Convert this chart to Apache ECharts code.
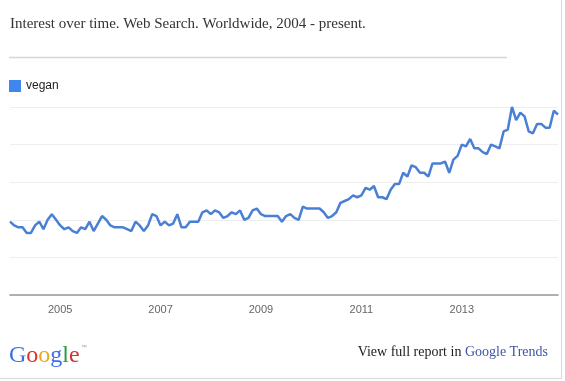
<!DOCTYPE html>
<html><head><meta charset="utf-8">
<script src="https://cdn.jsdelivr.net/npm/echarts@6/dist/echarts.min.js"></script>
<style>html,body{margin:0;padding:0;background:#fff}#c{width:565px;height:381px}</style>
</head><body><div id="c"></div>
<script>
const years = [2004,2005,2006,2007,2008,2009,2010,2011,2012,2013,2014];
const tickYears = ['2005','2007','2009','2011','2013'];
const seriesName = 'vegan';
const v2004 = [39,37,36,36,33,33,37,39,35,40,43,40];
const v2005 = [37,35,36,34,33,36,35,39,34,38,42,40];
const v2006 = [37,36,36,36,35,34,39,37,34,37,43,42];
const v2007 = [37,39,37,38,43,36,36,39,39,39,44,45];
const v2008 = [43,45,44,41,42,44,43,45,40,41,45,46];
const v2009 = [43,42,42,42,42,39,42,43,41,40,47,46];
const v2010 = [46,46,46,44,41,42,44,49,50,51,53,52];
const v2011 = [53,57,56,58,52,52,51,56,59,59,65,63];
const v2012 = [69,68,65,65,63,70,70,70,71,65,72,74];
const v2013 = [80,79,83,78,78,76,75,80,79,78,87,88];
const v2014 = [100,93,97,95,87,86,91,91,89,89,98,96];
const yearly = [v2004,v2005,v2006,v2007,v2008,v2009,v2010,v2011,v2012,v2013,v2014];

const cats = [], vals = [];
years.forEach((y,i)=>{ yearly[i].forEach((v,m)=>{ cats.push(y+'-'+String(m+1).padStart(2,'0')); vals.push(v); }); });

const chart = echarts.init(document.getElementById('c'), null, {renderer:'canvas'});
chart.setOption({
  animation:false,
  title:{text:'Interest over time. Web Search. Worldwide, 2004 - present.', left:10, top:17, padding:0,
    textStyle:{fontFamily:'Liberation Serif', fontSize:15, fontWeight:'normal', color:'#333'}},
  legend:{data:[seriesName], left:9, top:80, padding:0, icon:'rect', itemWidth:12, itemHeight:12, itemGap:5,
    textStyle:{fontFamily:'Liberation Sans', fontSize:12, color:'#222'}},
  grid:{left:10, right:7, top:107, bottom:86},
  xAxis:{type:'category', data:cats, boundaryGap:false,
    axisLine:{lineStyle:{color:'#999', width:1.5}},
    axisTick:{show:false},
    axisLabel:{interval:0, margin:9, fontFamily:'Liberation Sans', fontSize:11, color:'#666',
      formatter:(val)=>{ const [y,m]=val.split('-'); return (m==='01' && tickYears.includes(y)) ? y : ''; }},
    splitLine:{show:false}},
  yAxis:{type:'value', min:0, max:100, interval:20,
    axisLine:{show:false}, axisTick:{show:false}, axisLabel:{show:false},
    splitLine:{lineStyle:{color:'#eeeeee', width:1}}},
  series:[{name:seriesName, type:'line', data:vals, symbol:'none', smooth:false,
    itemStyle:{color:'#3f86f0'}, lineStyle:{color:'#4a7fd6', width:2.5}}],
  graphic:[
    {type:'line', shape:{x1:9, y1:57.5, x2:507, y2:57.5}, style:{stroke:'#d6d6d6', lineWidth:1.5}},
    {type:'line', shape:{x1:561.5, y1:0, x2:561.5, y2:378}, style:{stroke:'#d9d9d9', lineWidth:1}},
    {type:'line', shape:{x1:0, y1:378.5, x2:562, y2:378.5}, style:{stroke:'#d9d9d9', lineWidth:1}},
    {type:'text', left:9, top:344, style:{
      text:'{b|G}{r|o}{y|o}{b|g}{g|l}{r|e}{t|™}',
      rich:{
        b:{fill:'#3a6ee8', fontFamily:'Liberation Serif', fontSize:24},
        r:{fill:'#d6332a', fontFamily:'Liberation Serif', fontSize:24},
        y:{fill:'#e9a91c', fontFamily:'Liberation Serif', fontSize:24},
        g:{fill:'#2a9a3c', fontFamily:'Liberation Serif', fontSize:24},
        t:{fill:'#999', fontFamily:'Liberation Sans', fontSize:6, verticalAlign:'top', padding:[0,0,10,1]}
      }}},
    {type:'text', right:17, top:345, style:{
      text:'{k|View full report in }{l|Google Trends}',
      rich:{
        k:{fill:'#222', fontFamily:'Liberation Serif', fontSize:14},
        l:{fill:'#3e57a6', fontFamily:'Liberation Serif', fontSize:14}
      }}}
  ]
});
</script></body></html>
